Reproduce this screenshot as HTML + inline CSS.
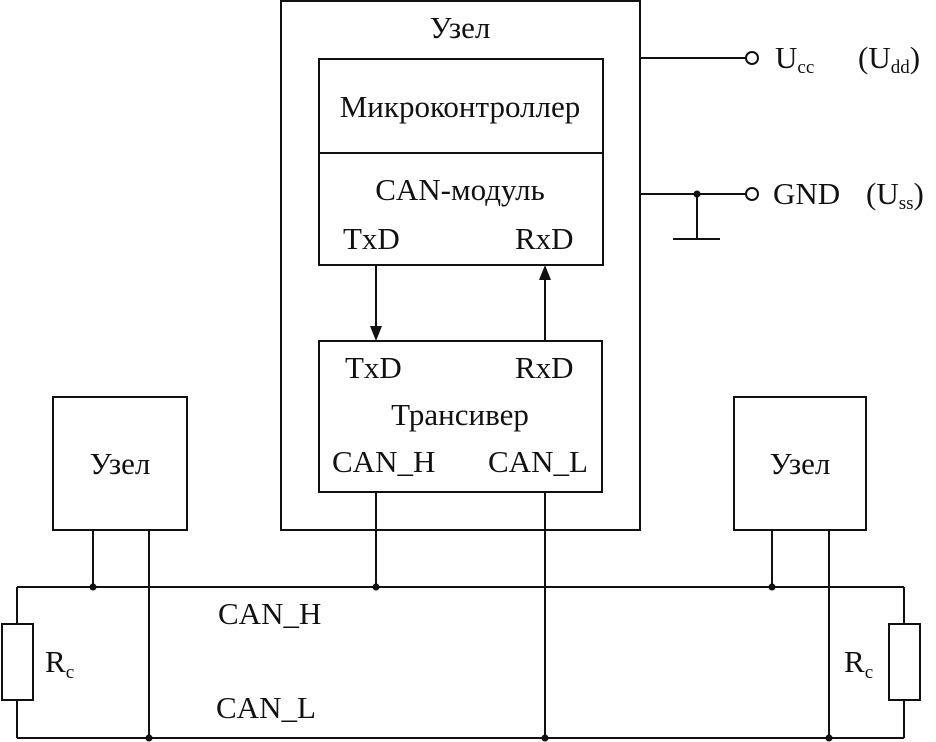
<!DOCTYPE html>
<html><head><meta charset="utf-8"><style>
html,body{margin:0;padding:0;background:#fff;}
svg{display:block}
text{font-family:"Liberation Serif",serif;fill:#111;font-size:31px}
</style></head><body>
<svg width="936" height="742" viewBox="0 0 936 742" xmlns="http://www.w3.org/2000/svg">
<g fill="none" stroke="#111" stroke-width="2">
<rect x="281" y="1" width="359" height="529"/>
<rect x="319" y="59" width="284" height="206"/>
<line x1="319" y1="153" x2="603" y2="153"/>
<rect x="319" y="341" width="283" height="151"/>
<rect x="53" y="397" width="134" height="133"/>
<rect x="734" y="397" width="132" height="133"/>
<line x1="17" y1="587" x2="904" y2="587"/>
<line x1="17" y1="738" x2="904" y2="738"/>
<line x1="17" y1="587" x2="17" y2="738"/>
<line x1="904" y1="587" x2="904" y2="738"/>
<rect x="2" y="624" width="31" height="76" fill="#fff"/>
<rect x="889" y="624" width="31" height="76" fill="#fff"/>
<line x1="93" y1="530" x2="93" y2="587"/>
<line x1="149" y1="530" x2="149" y2="738"/>
<line x1="772" y1="530" x2="772" y2="587"/>
<line x1="829" y1="530" x2="829" y2="738"/>
<line x1="376" y1="492" x2="376" y2="587"/>
<line x1="545" y1="492" x2="545" y2="738"/>
<line x1="376" y1="265" x2="376" y2="328"/>
<line x1="545" y1="278" x2="545" y2="341"/>
<line x1="640" y1="58" x2="746" y2="58"/>
<line x1="640" y1="194" x2="746" y2="194"/>
<line x1="697" y1="194" x2="697" y2="239"/>
<line x1="673" y1="239" x2="720" y2="239"/>
<circle cx="752" cy="58" r="6"/>
<circle cx="752" cy="194" r="6"/>
</g>
<g fill="#111">
<polygon points="370,326 382,326 376,341"/>
<polygon points="539,280 551,280 545,265"/>
<circle cx="93" cy="587" r="3.5"/><circle cx="149" cy="738" r="3.5"/>
<circle cx="772" cy="587" r="3.5"/><circle cx="829" cy="738" r="3.5"/>
<circle cx="376" cy="587" r="3.5"/><circle cx="545" cy="738" r="3.5"/>
<circle cx="697" cy="194" r="3.5"/>
</g>
<text x="460" y="38" text-anchor="middle">Узел</text>
<text x="460" y="117" text-anchor="middle">Микроконтроллер</text>
<text x="460" y="200" text-anchor="middle">CAN-модуль</text>
<text x="343" y="249">TxD</text>
<text x="515" y="249">RxD</text>
<text x="345" y="378">TxD</text>
<text x="515" y="378">RxD</text>
<text x="460" y="425" text-anchor="middle">Трансивер</text>
<text x="332" y="472">CAN_H</text>
<text x="488" y="472">CAN_L</text>
<text x="120" y="474" text-anchor="middle">Узел</text>
<text x="800" y="474" text-anchor="middle">Узел</text>
<text x="218" y="624">CAN_H</text>
<text x="216" y="718">CAN_L</text>
<text x="45" y="672">R<tspan font-size="19" dy="6">c</tspan></text>
<text x="844" y="672">R<tspan font-size="19" dy="6">c</tspan></text>
<text x="775" y="68">U<tspan font-size="19" dy="5">cc</tspan></text>
<text x="858" y="68">(U<tspan font-size="19" dy="5">dd</tspan><tspan dy="-5">)</tspan></text>
<text x="773" y="204">GND</text>
<text x="866" y="204">(U<tspan font-size="19" dy="5">ss</tspan><tspan dy="-5">)</tspan></text>
</svg>
</body></html>
